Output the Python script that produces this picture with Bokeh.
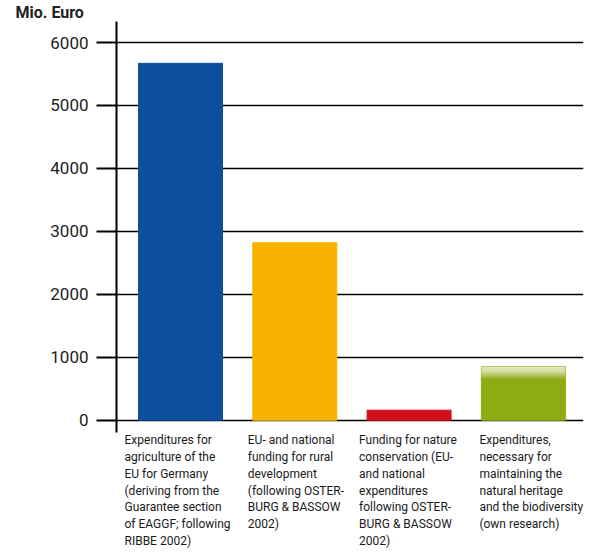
from bokeh.plotting import figure
from bokeh.models import ColumnDataSource, FixedTicker, Range1d, LinearAxis
from bokeh.core.properties import value
from bokeh.embed import file_html
from bokeh.resources import INLINE

# data
categories = [
    "Expenditures for\nagriculture of the\nEU for Germany\n(deriving from the\nGuarantee section\nof EAGGF; following\nRIBBE 2002)",
    "EU- and national\nfunding for rural\ndevelopment\n(following OSTER-\nBURG & BASSOW\n2002)",
    "Funding for nature\nconservation (EU-\nand national\nexpenditures\nfollowing OSTER-\nBURG & BASSOW\n2002)",
    "Expenditures,\nnecessary for\nmaintaining the\nnatural heritage\nand the biodiversity\n(own research)",
]
positions = [0, 1, 2, 3]
values_mio_euro = [5670, 2820, 160, 850]
y_ticks = [0, 1000, 2000, 3000, 4000, 5000, 6000]
y_unit_label = "Mio. Euro"

# styles
bar_colors = ["#0d4f9c", "#f9b200", "#d2101c", "#8dab12"]
label_x_offsets = [-56, -47, -50, -44]
FONT = "Roboto"

src = ColumnDataSource(dict(x=positions, top=values_mio_euro, color=bar_colors,
                            label=categories, xoff=label_x_offsets))

p = figure(width=603, height=553, output_backend="svg", toolbar_location=None,
           x_range=Range1d(-0.56, 3.526), y_range=Range1d(-2117, 6334),
           y_axis_location=None, x_axis_location=None,
           min_border_left=116, min_border_right=20, min_border_top=0, min_border_bottom=0)
p.outline_line_color = None
p.background_fill_color = "white"

p.title.text = y_unit_label
p.title.align = "left"
p.title.offset = -101
p.title.text_font = FONT
p.title.text_font_size = "16px"
p.title.text_font_style = "bold"
p.title.text_color = "#222222"
p.title.standoff = 0

yaxis = LinearAxis(ticker=FixedTicker(ticks=y_ticks), bounds=(-191, 6366))
yaxis.axis_line_width = 2
yaxis.axis_line_color = "black"
yaxis.major_tick_out = 20
yaxis.major_tick_in = 0
yaxis.major_tick_line_width = 2
yaxis.minor_tick_line_color = None
yaxis.major_label_standoff = 8
yaxis.major_label_text_font = FONT
yaxis.major_label_text_font_size = "17px"
yaxis.major_label_text_color = "#222222"
p.add_layout(yaxis, "left")

p.xgrid.visible = False
p.ygrid.ticker = FixedTicker(ticks=y_ticks)
p.ygrid.grid_line_color = "black"
p.ygrid.grid_line_width = 1.6

p.vbar(x="x", top="top", bottom=0, width=0.735, color="color", source=src)

# soft fading top edge of the estimated (last) bar
fade_band = 200
n_steps = 12
last = len(values_mio_euro) - 1
top_last = values_mio_euro[last]
step = fade_band / n_steps
p.vbar(x=[positions[last]] * n_steps,
       bottom=[top_last - (i + 1) * step for i in range(n_steps)],
       top=[top_last - i * step for i in range(n_steps)],
       width=0.735, line_color=None, fill_color="white",
       fill_alpha=[0.9 * (1 - i / n_steps) for i in range(n_steps)])

p.text(x="x", y=0, text="label", source=src, x_offset="xoff", y_offset=13,
       text_align="left", text_baseline="top", text_font=value(FONT),
       text_font_size="12px", text_line_height=1.2, text_color="#1a1a1a")

open("out.html", "w").write(file_html(p, INLINE))
